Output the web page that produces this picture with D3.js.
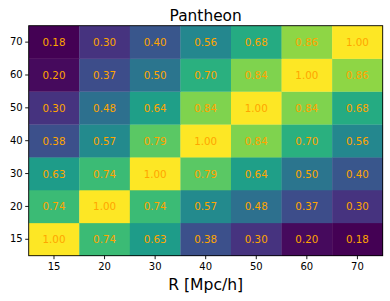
<!DOCTYPE html>
<html>
<head>
<meta charset="utf-8">
<script src="https://cdn.jsdelivr.net/npm/d3@7"></script>
<style>
  html, body { margin: 0; padding: 0; background: #fff; }
  svg { display: block; }
  text { font-family: "DejaVu Sans", sans-serif; }
</style>
</head>
<body>
<div id="chart"></div>
<script>
const title = "Pantheon";
const xTitle = "R [Mpc/h]";
const xCategories = ["15", "20", "30", "40", "50", "60", "70"];
const yCategories = ["15", "20", "30", "40", "50", "60", "70"];
// rows follow yCategories (15 at bottom ... 70 at top), columns follow xCategories
const row15 = [1.00, 0.74, 0.63, 0.38, 0.30, 0.20, 0.18];
const row20 = [0.74, 1.00, 0.74, 0.57, 0.48, 0.37, 0.30];
const row30 = [0.63, 0.74, 1.00, 0.79, 0.64, 0.50, 0.40];
const row40 = [0.38, 0.57, 0.79, 1.00, 0.84, 0.70, 0.56];
const row50 = [0.30, 0.48, 0.64, 0.84, 1.00, 0.84, 0.68];
const row60 = [0.20, 0.37, 0.50, 0.70, 0.84, 1.00, 0.86];
const row70 = [0.18, 0.30, 0.40, 0.56, 0.68, 0.86, 1.00];
const rows = [row15, row20, row30, row40, row50, row60, row70];

const W = 390, H = 301;
const m = { left: 28.7, right: 390 - 382.7, top: 25.7, bottom: 301 - 255.7 };

const svg = d3.select("#chart").append("svg").attr("width", W).attr("height", H);

const x = d3.scaleBand().domain(xCategories).range([m.left, W - m.right]).padding(0);
const y = d3.scaleBand().domain(yCategories).range([H - m.bottom, m.top]).padding(0);

const cells = [];
rows.forEach((r, i) => r.forEach((v, j) => cells.push({ xc: xCategories[j], yc: yCategories[i], v })));

const allVals = cells.map(d => d.v);
const color = d3.scaleSequential(d3.interpolateViridis).domain([d3.min(allVals), d3.max(allVals)]);

svg.append("g").selectAll("rect").data(cells).join("rect")
  .attr("x", d => x(d.xc))
  .attr("y", d => y(d.yc))
  .attr("width", x.bandwidth() + 0.3)
  .attr("height", y.bandwidth() + 0.3)
  .attr("fill", d => color(d.v));

svg.append("g").selectAll("text").data(cells).join("text")
  .attr("x", d => x(d.xc) + x.bandwidth() / 2)
  .attr("y", d => y(d.yc) + y.bandwidth() / 2)
  .attr("text-anchor", "middle")
  .attr("dominant-baseline", "central")
  .attr("font-size", 10.3)
  .attr("fill", "#FFA500")
  .text(d => d.v.toFixed(2));

// frame
svg.append("rect")
  .attr("x", m.left).attr("y", m.top)
  .attr("width", W - m.left - m.right).attr("height", H - m.top - m.bottom)
  .attr("fill", "none").attr("stroke", "#000").attr("stroke-width", 0.9);

const xAxis = svg.append("g").attr("transform", `translate(0,${H - m.bottom})`)
  .call(d3.axisBottom(x).tickSize(3.5).tickPadding(3.5));
const yAxis = svg.append("g").attr("transform", `translate(${m.left},0)`)
  .call(d3.axisLeft(y).tickSize(3.5).tickPadding(2.5));
[xAxis, yAxis].forEach(a => {
  a.select(".domain").remove();
  a.selectAll("line").attr("stroke", "#000").attr("stroke-width", 0.9);
  a.selectAll("text").attr("font-family", "DejaVu Sans").attr("font-size", 10).attr("fill", "#000");
});

svg.append("text")
  .attr("x", (m.left + W - m.right) / 2).attr("y", 20.5)
  .attr("text-anchor", "middle").attr("font-size", 15.4).attr("fill", "#000")
  .text(title);

svg.append("text")
  .attr("x", (m.left + W - m.right) / 2).attr("y", 289.5)
  .attr("text-anchor", "middle").attr("font-size", 15.6).attr("fill", "#000")
  .text(xTitle);
</script>
</body>
</html>
